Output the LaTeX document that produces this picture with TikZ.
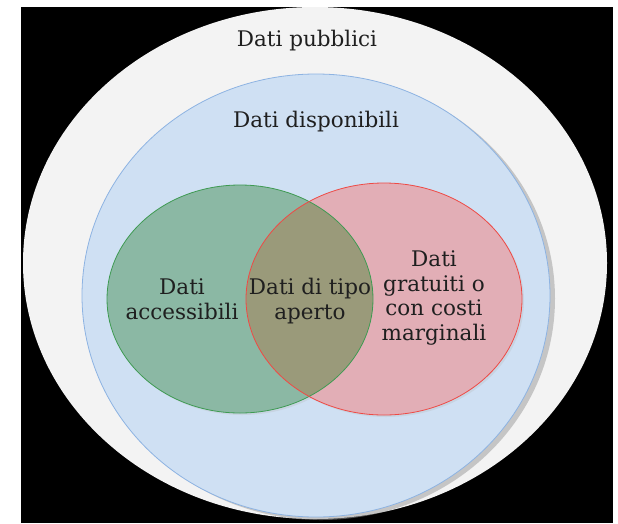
\documentclass[tikz,border=0pt]{standalone}
\usepackage{fontspec}
\setmainfont{DejaVu Serif}
\usetikzlibrary{shadows}
\definecolor{fondo}{HTML}{F3F3F3}
\definecolor{blufill}{HTML}{CFE0F3}
\definecolor{bluline}{HTML}{8DB3E2}
\definecolor{verdefill}{HTML}{8BB8A4}
\definecolor{verdeline}{HTML}{3E9A52}
\definecolor{rossofill}{HTML}{E2AEB6}
\definecolor{rossoline}{HTML}{EE4A45}
\definecolor{olivafill}{HTML}{9A9A7A}
\begin{document}
\begin{tikzpicture}[x=1pt, y=-1pt, every node/.style={font=\fontsize{21.5}{24.5}\selectfont, align=center, text=black!88, inner sep=0pt}]
  \fill[white] (0,0) rectangle (618,523);
  \fill[black] (21,7) rectangle (613,523);
  \fill[fondo] (315,263) ellipse [x radius=292, y radius=256];
  \filldraw[fill=blufill, draw=bluline, line width=0.8pt, drop shadow={shadow xshift=5pt, shadow yshift=-3pt, fill=black!40, opacity=0.5}] (316,295.5) ellipse [x radius=234, y radius=221.5];
  \fill[verdefill, drop shadow={shadow xshift=2pt, shadow yshift=-2pt, fill=black!30, opacity=0.25}] (240,299) ellipse [x radius=133, y radius=114];
  \fill[rossofill, drop shadow={shadow xshift=2pt, shadow yshift=-2pt, fill=black!30, opacity=0.25}] (384,299) ellipse [x radius=138, y radius=116];
  \begin{scope}
    \clip (240,299) ellipse [x radius=133, y radius=114];
    \fill[olivafill] (384,299) ellipse [x radius=138, y radius=116];
  \end{scope}
  \draw[verdeline, line width=0.8pt] (240,299) ellipse [x radius=133, y radius=114];
  \draw[rossoline, line width=0.8pt] (384,299) ellipse [x radius=138, y radius=116];
  \node (pubblici) at (307,41) {Dati pubblici};
  \node (disponibili) at (316,122) {Dati disponibili};
  \node (accessibili) at (182,299) {Dati\\accessibili};
  \node (aperto) at (310,301) {Dati di tipo\\aperto};
  \node (gratuiti) at (434,298) {Dati\\gratuiti o\\con costi\\marginali};
\end{tikzpicture}
\end{document}
